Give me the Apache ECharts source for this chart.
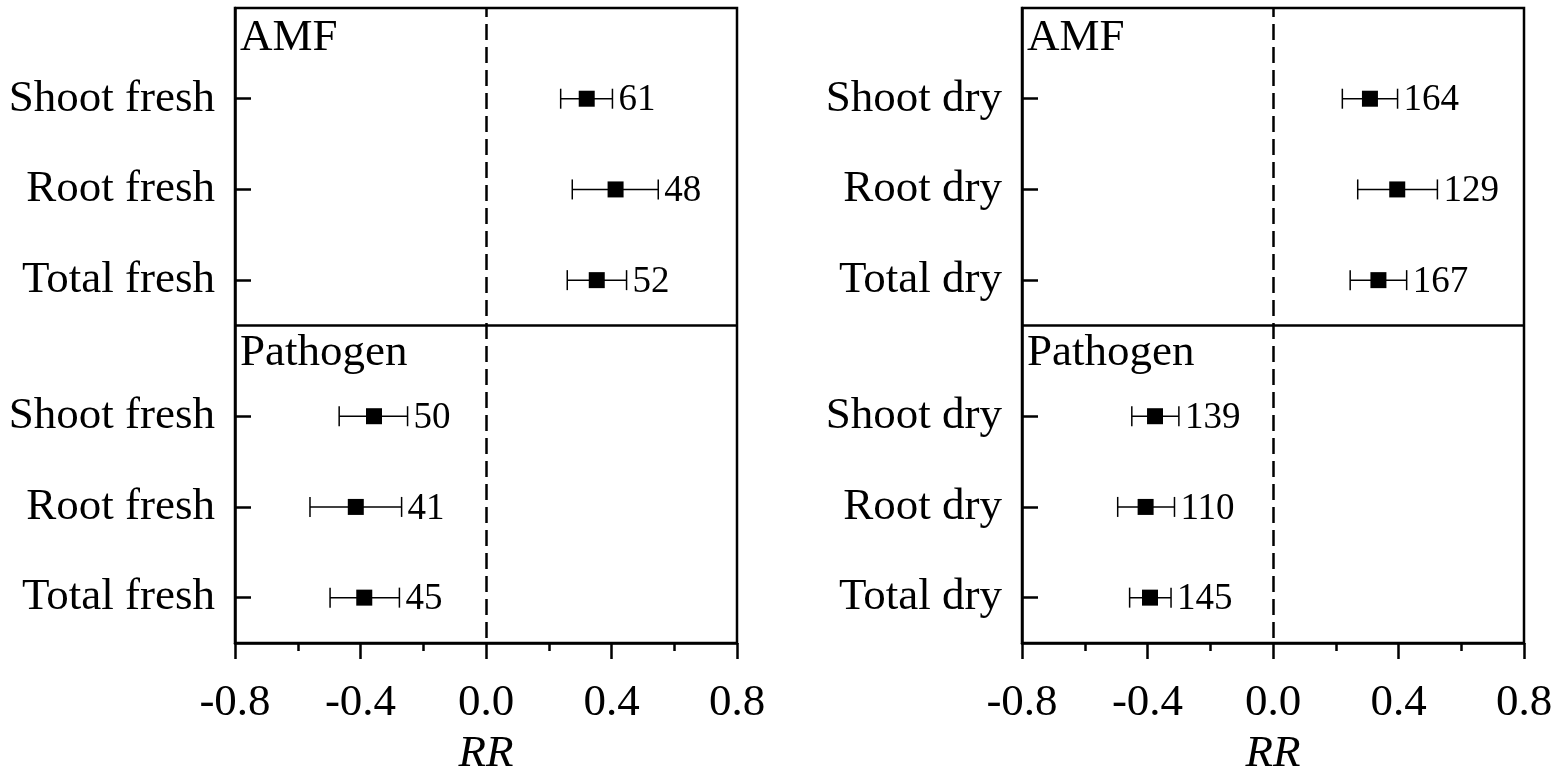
<!DOCTYPE html>
<html>
<head>
<meta charset="utf-8">
<script src="https://cdn.jsdelivr.net/npm/echarts@6/dist/echarts.min.js"></script>
<style>
  html, body { margin: 0; padding: 0; background: #fff; }
  #chart { width: 1559px; height: 775px; }
</style>
</head>
<body>
<div id="chart"></div>
<script>
  // categories
  const freshCats = ["Shoot fresh", "Root fresh", "Total fresh"];
  const dryCats = ["Shoot dry", "Root dry", "Total dry"];
  const groups = ["AMF", "Pathogen"];
  const xTicks = [-0.8, -0.4, 0.0, 0.4, 0.8];

  // fresh biomass (left panel)
  const freshAmfRR = [0.321, 0.413, 0.353];
  const freshAmfLo = [0.238, 0.275, 0.259];
  const freshAmfHi = [0.403, 0.549, 0.448];
  const freshAmfN = [61, 48, 52];
  const freshPathRR = [-0.357, -0.415, -0.388];
  const freshPathLo = [-0.468, -0.561, -0.497];
  const freshPathHi = [-0.250, -0.269, -0.276];
  const freshPathN = [50, 41, 45];

  // dry biomass (right panel)
  const dryAmfRR = [0.309, 0.396, 0.336];
  const dryAmfLo = [0.221, 0.270, 0.246];
  const dryAmfHi = [0.397, 0.524, 0.426];
  const dryAmfN = [164, 129, 167];
  const dryPathRR = [-0.376, -0.406, -0.392];
  const dryPathLo = [-0.450, -0.495, -0.457];
  const dryPathHi = [-0.300, -0.314, -0.325];
  const dryPathN = [139, 110, 145];

  const FONT = "'Liberation Serif', 'Times New Roman', serif";
  const INK = "#000";

  // row slots: AMF block on top (6,5,4), Pathogen block below (2.5,1.5,0.5)
  const amfSlot = i => 6 - i;
  const pathSlot = i => 2.5 - i;

  function rows(cats, amf, path) {
    const out = [];
    cats.forEach((c, i) => out.push({ name: c, y: amfSlot(i), rr: amf[0][i], lo: amf[1][i], hi: amf[2][i], n: amf[3][i] }));
    cats.forEach((c, i) => out.push({ name: c, y: pathSlot(i), rr: path[0][i], lo: path[1][i], hi: path[2][i], n: path[3][i] }));
    return out;
  }

  const panels = [
    rows(freshCats, [freshAmfRR, freshAmfLo, freshAmfHi, freshAmfN], [freshPathRR, freshPathLo, freshPathHi, freshPathN]),
    rows(dryCats, [dryAmfRR, dryAmfLo, dryAmfHi, dryAmfN], [dryPathRR, dryPathLo, dryPathHi, dryPathN])
  ];

  const grids = [
    { left: 235, top: 8, width: 502, height: 635 },
    { left: 1022, top: 8, width: 502, height: 635 }
  ];

  const xAxes = grids.map((g, k) => ({
    type: "value", gridIndex: k, min: -0.8, max: 0.8, interval: 0.4,
    name: "RR", nameLocation: "middle", nameGap: 89,
    nameTextStyle: { fontFamily: FONT, fontSize: 45, fontStyle: "italic", color: INK },
    axisLine: { show: true, onZero: false, lineStyle: { color: INK, width: 2.5 } },
    axisTick: { show: true, inside: false, length: 16, lineStyle: { color: INK, width: 2.5 } },
    minorTick: { show: true, splitNumber: 2, length: 8, lineStyle: { color: INK, width: 2.5 } },
    splitLine: { show: false },
    axisLabel: {
      margin: 38, fontFamily: FONT, fontSize: 45, color: INK,
      showMinLabel: true, showMaxLabel: true,
      formatter: v => xTicks.some(t => Math.abs(t - v) < 1e-9) ? v.toFixed(1) : ""
    }
  }));

  const yAxes = panels.map((data, k) => {
    const slots = data.map(d => d.y);
    return {
      type: "value", gridIndex: k, min: 0, max: 7,
      axisLine: { show: true, onZero: false, lineStyle: { color: INK, width: 2.5 } },
      axisTick: { show: true, inside: true, length: 16, customValues: slots, lineStyle: { color: INK, width: 2.5 } },
      splitLine: { show: false },
      axisLabel: {
        margin: 20, fontFamily: FONT, fontSize: 45, color: INK, customValues: slots,
        formatter: v => { const d = data.find(r => Math.abs(r.y - v) < 1e-6); return d ? d.name : ""; }
      }
    };
  });

  const series = [];
  panels.forEach((data, k) => {
    series.push({
      type: "custom", xAxisIndex: k, yAxisIndex: k, silent: true, z: 3,
      data: data.map(d => [d.lo, d.hi, d.y, d.n]),
      renderItem: (params, api) => {
        const a = api.coord([api.value(0), api.value(2)]);
        const b = api.coord([api.value(1), api.value(2)]);
        const cap = 10;
        const ls = { stroke: INK, lineWidth: 1.5 };
        return {
          type: "group",
          children: [
            { type: "line", shape: { x1: a[0], y1: a[1], x2: b[0], y2: b[1] }, style: ls },
            { type: "line", shape: { x1: a[0], y1: a[1] - cap, x2: a[0], y2: a[1] + cap }, style: ls },
            { type: "line", shape: { x1: b[0], y1: b[1] - cap, x2: b[0], y2: b[1] + cap }, style: ls },
            { type: "text", style: { text: String(api.value(3)), x: b[0] + 6, y: b[1] + 2, align: "left", verticalAlign: "middle",
                fill: INK, font: "37px " + FONT } }
          ]
        };
      },
      markLine: {
        silent: true, symbol: "none", label: { show: false },
        data: [
          { xAxis: 0, lineStyle: { type: [16, 7], dashOffset: -5, color: INK, width: 2.5 } },
          { yAxis: 3.5, lineStyle: { type: "solid", color: INK, width: 2.5 } }
        ]
      }
    });
    series.push({
      type: "scatter", xAxisIndex: k, yAxisIndex: k, silent: true, z: 4,
      symbol: "rect", symbolSize: 16, itemStyle: { color: INK, opacity: 1 },
      data: data.map(d => [d.rr, d.y])
    });
  });

  const graphic = [];
  grids.forEach(g => {
    graphic.push({ type: "text", left: g.left + 5, top: 16, style: { text: groups[0], font: "45px " + FONT, fill: INK } });
    graphic.push({ type: "text", left: g.left + 5, top: 331, style: { text: groups[1], font: "45px " + FONT, fill: INK } });
  });

  const chart = echarts.init(document.getElementById("chart"), null, { renderer: "canvas" });
  chart.setOption({
    animation: false,
    grid: grids.map(g => Object.assign({
      show: true, borderColor: INK, borderWidth: 2.5, backgroundColor: "transparent",
      containLabel: false, outerBoundsMode: "none"
    }, g)),
    xAxis: xAxes,
    yAxis: yAxes,
    series,
    graphic
  });
</script>
</body>
</html>
